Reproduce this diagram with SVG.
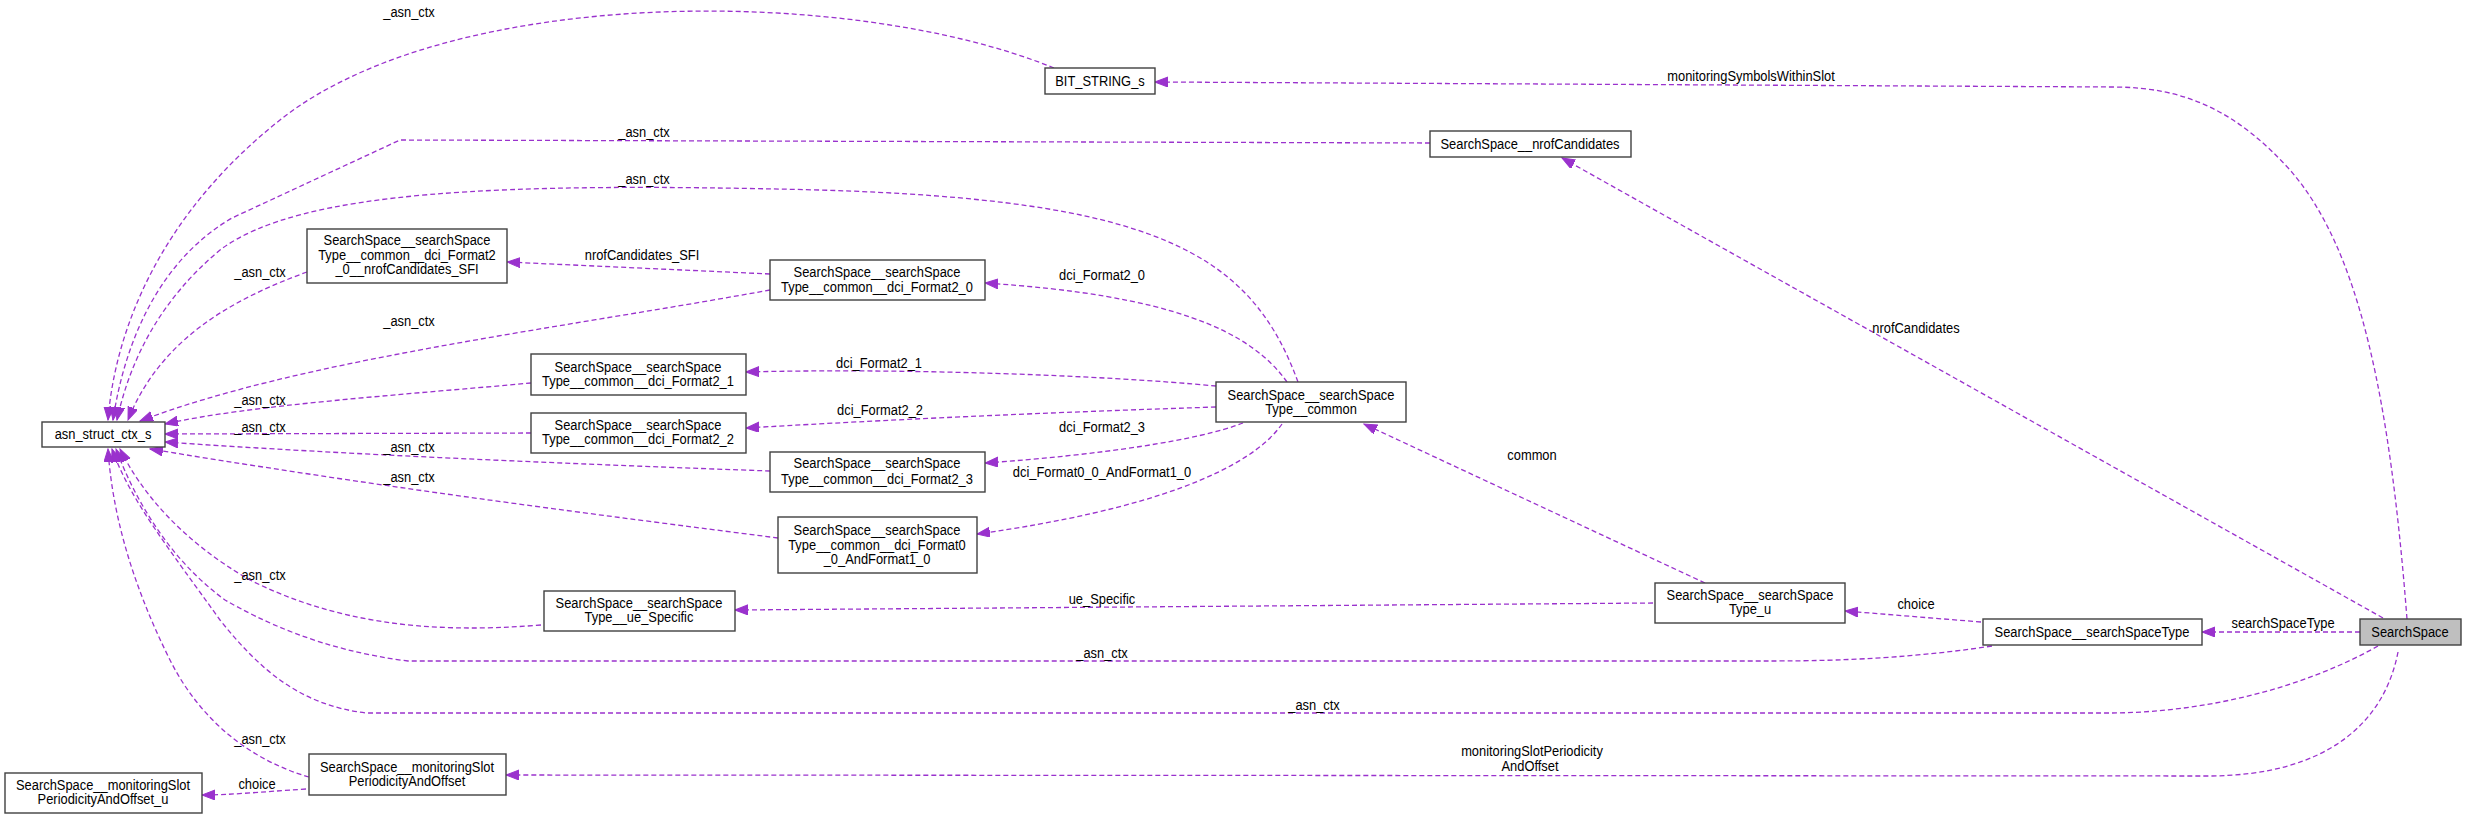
<svg xmlns="http://www.w3.org/2000/svg" width="2465" height="819" viewBox="0 0 2465 819">
<defs>
<style>
.e{fill:none;stroke:#9a32cd;stroke-width:1.3;stroke-dasharray:5,3;marker-end:url(#ah)}
.n{fill:#fff;stroke:#404040;stroke-width:1.4}
.g{fill:#bfbfbf;stroke:#404040;stroke-width:1.4}
text{font-family:"Liberation Sans",Arial,sans-serif;font-size:15px;text-anchor:middle;fill:#000}
</style>
<marker id="ah" markerWidth="14" markerHeight="11" refX="13" refY="5" orient="auto" markerUnits="userSpaceOnUse">
<path d="M0,0 L13,5 L0,10 Z" fill="#9a32cd" stroke="#9a32cd" stroke-width="1"/>
</marker>
</defs>
<rect width="2465" height="819" fill="#fff"/>
<g id="edges">
<path class="e" d="M1054,68 C850,-15 450,-15 280,120 C160,215 115,330 108,420"/>
<path class="e" d="M1430,143 L400,140 L232,218 C160,260 125,340 113,420"/>
<path class="e" d="M1298,382 C1250,250 1150,200 820,190 C500,182 300,190 220,250 C160,300 130,360 117,420"/>
<path class="e" d="M307,272 C230,300 160,340 128,420"/>
<path class="e" d="M770,290 C550,330 300,360 140,421"/>
<path class="e" d="M531,383 C400,395 250,405 165,424"/>
<path class="e" d="M531,433 L165,434"/>
<path class="e" d="M770,471 C600,465 350,455 165,442"/>
<path class="e" d="M778,538 C600,515 400,490 150,449"/>
<path class="e" d="M541,625 C420,635 330,620 250,580 C180,540 140,490 120,449"/>
<path class="e" d="M1992,646 C1900,660 1820,661 1765,661 L408,661 C320,650 260,620 225,600 C170,560 135,500 116,449"/>
<path class="e" d="M2378,646 C2300,690 2200,713 2108,713 L366,713 C300,705 260,670 220,620 C170,550 130,500 112,449"/>
<path class="e" d="M309,777 C250,760 200,720 170,660 C130,580 112,510 108,449"/>
<path class="e" d="M306,789 C260,792 230,795 202,795"/>
<path class="e" d="M2398,652 C2385,720 2330,776 2207,776 L506,775"/>
<path class="e" d="M2407,619 C2390,400 2360,250 2290,170 C2240,115 2190,87 2113,87 L1155,82"/>
<path class="e" d="M2383,618 L1562,158"/>
<path class="e" d="M2360,632 L2202,632"/>
<path class="e" d="M1981,622 L1845,611"/>
<path class="e" d="M1705,583 L1364,424"/>
<path class="e" d="M1653,603 L735,610"/>
<path class="e" d="M1287,382 C1250,330 1170,295 985,283"/>
<path class="e" d="M1216,386 C1100,375 900,368 746,372"/>
<path class="e" d="M1216,407 C1000,414 850,422 746,428"/>
<path class="e" d="M1243,423 C1200,440 1100,455 985,463"/>
<path class="e" d="M1282,424 C1250,470 1150,510 977,534"/>
<path class="e" d="M770,274 L507,262"/>
</g>
<g id="edge-labels">
<text transform="translate(409,17) scale(0.86,1)">_asn_ctx</text>
<text transform="translate(644,137) scale(0.86,1)">_asn_ctx</text>
<text transform="translate(644,184) scale(0.86,1)">_asn_ctx</text>
<text transform="translate(260,277) scale(0.86,1)">_asn_ctx</text>
<text transform="translate(409,326) scale(0.86,1)">_asn_ctx</text>
<text transform="translate(260,405) scale(0.86,1)">_asn_ctx</text>
<text transform="translate(260,432) scale(0.86,1)">_asn_ctx</text>
<text transform="translate(409,452) scale(0.86,1)">_asn_ctx</text>
<text transform="translate(409,482) scale(0.86,1)">_asn_ctx</text>
<text transform="translate(260,580) scale(0.86,1)">_asn_ctx</text>
<text transform="translate(1102,658) scale(0.86,1)">_asn_ctx</text>
<text transform="translate(1314,710) scale(0.86,1)">_asn_ctx</text>
<text transform="translate(260,744) scale(0.86,1)">_asn_ctx</text>
<text transform="translate(257,789) scale(0.86,1)">choice</text>
<text transform="translate(1532,756) scale(0.86,1)">monitoringSlotPeriodicity</text>
<text transform="translate(1530,771) scale(0.86,1)">AndOffset</text>
<text transform="translate(1751,81) scale(0.86,1)">monitoringSymbolsWithinSlot</text>
<text transform="translate(1916,333) scale(0.86,1)">nrofCandidates</text>
<text transform="translate(2283,628) scale(0.86,1)">searchSpaceType</text>
<text transform="translate(1916,609) scale(0.86,1)">choice</text>
<text transform="translate(1532,460) scale(0.86,1)">common</text>
<text transform="translate(1102,604) scale(0.86,1)">ue_Specific</text>
<text transform="translate(1102,280) scale(0.86,1)">dci_Format2_0</text>
<text transform="translate(879,368) scale(0.86,1)">dci_Format2_1</text>
<text transform="translate(880,415) scale(0.86,1)">dci_Format2_2</text>
<text transform="translate(1102,432) scale(0.86,1)">dci_Format2_3</text>
<text transform="translate(1102,477) scale(0.86,1)">dci_Format0_0_AndFormat1_0</text>
<text transform="translate(642,260) scale(0.86,1)">nrofCandidates_SFI</text>
</g>
<g id="asn_struct_ctx_s"><rect class="n" x="42" y="422" width="123" height="25"/><text transform="translate(103,439) scale(0.86,1)">asn_struct_ctx_s</text></g>
<g id="BIT_STRING_s"><rect class="n" x="1045" y="68" width="110" height="26"/><text transform="translate(1100,86) scale(0.86,1)">BIT_STRING_s</text></g>
<g id="SearchSpace__nrofCandidates"><rect class="n" x="1430" y="131" width="201" height="26"/><text transform="translate(1530,149) scale(0.86,1)">SearchSpace__nrofCandidates</text></g>
<g id="nrofCandidates_SFI"><rect class="n" x="307" y="229" width="200" height="54"/><text transform="translate(407,245) scale(0.86,1)">SearchSpace__searchSpace</text><text transform="translate(407,260) scale(0.86,1)">Type__common__dci_Format2</text><text transform="translate(407,274) scale(0.86,1)">_0__nrofCandidates_SFI</text></g>
<g id="dci_Format2_0"><rect class="n" x="770" y="260" width="215" height="40"/><text transform="translate(877,277) scale(0.86,1)">SearchSpace__searchSpace</text><text transform="translate(877,292) scale(0.86,1)">Type__common__dci_Format2_0</text></g>
<g id="dci_Format2_1"><rect class="n" x="531" y="354" width="215" height="41"/><text transform="translate(638,372) scale(0.86,1)">SearchSpace__searchSpace</text><text transform="translate(638,386) scale(0.86,1)">Type__common__dci_Format2_1</text></g>
<g id="dci_Format2_2"><rect class="n" x="531" y="413" width="215" height="40"/><text transform="translate(638,430) scale(0.86,1)">SearchSpace__searchSpace</text><text transform="translate(638,444) scale(0.86,1)">Type__common__dci_Format2_2</text></g>
<g id="dci_Format2_3"><rect class="n" x="770" y="452" width="215" height="40"/><text transform="translate(877,468) scale(0.86,1)">SearchSpace__searchSpace</text><text transform="translate(877,484) scale(0.86,1)">Type__common__dci_Format2_3</text></g>
<g id="dci_Format0_0"><rect class="n" x="778" y="517" width="199" height="56"/><text transform="translate(877,535) scale(0.86,1)">SearchSpace__searchSpace</text><text transform="translate(877,550) scale(0.86,1)">Type__common__dci_Format0</text><text transform="translate(877,564) scale(0.86,1)">_0_AndFormat1_0</text></g>
<g id="common"><rect class="n" x="1216" y="382" width="190" height="40"/><text transform="translate(1311,400) scale(0.86,1)">SearchSpace__searchSpace</text><text transform="translate(1311,414) scale(0.86,1)">Type__common</text></g>
<g id="ue_Specific"><rect class="n" x="544" y="591" width="191" height="40"/><text transform="translate(639,608) scale(0.86,1)">SearchSpace__searchSpace</text><text transform="translate(639,622) scale(0.86,1)">Type__ue_Specific</text></g>
<g id="searchSpaceType_u"><rect class="n" x="1655" y="583" width="190" height="40"/><text transform="translate(1750,600) scale(0.86,1)">SearchSpace__searchSpace</text><text transform="translate(1750,614) scale(0.86,1)">Type_u</text></g>
<g id="searchSpaceType"><rect class="n" x="1983" y="619" width="219" height="26"/><text transform="translate(2092,637) scale(0.86,1)">SearchSpace__searchSpaceType</text></g>
<g id="SearchSpace"><rect class="g" x="2360" y="619" width="101" height="26"/><text transform="translate(2410,637) scale(0.86,1)">SearchSpace</text></g>
<g id="monitoringSlot"><rect class="n" x="309" y="754" width="197" height="41"/><text transform="translate(407,772) scale(0.86,1)">SearchSpace__monitoringSlot</text><text transform="translate(407,786) scale(0.86,1)">PeriodicityAndOffset</text></g>
<g id="monitoringSlot_u"><rect class="n" x="5" y="773" width="197" height="40"/><text transform="translate(103,790) scale(0.86,1)">SearchSpace__monitoringSlot</text><text transform="translate(103,804) scale(0.86,1)">PeriodicityAndOffset_u</text></g>
</svg>
